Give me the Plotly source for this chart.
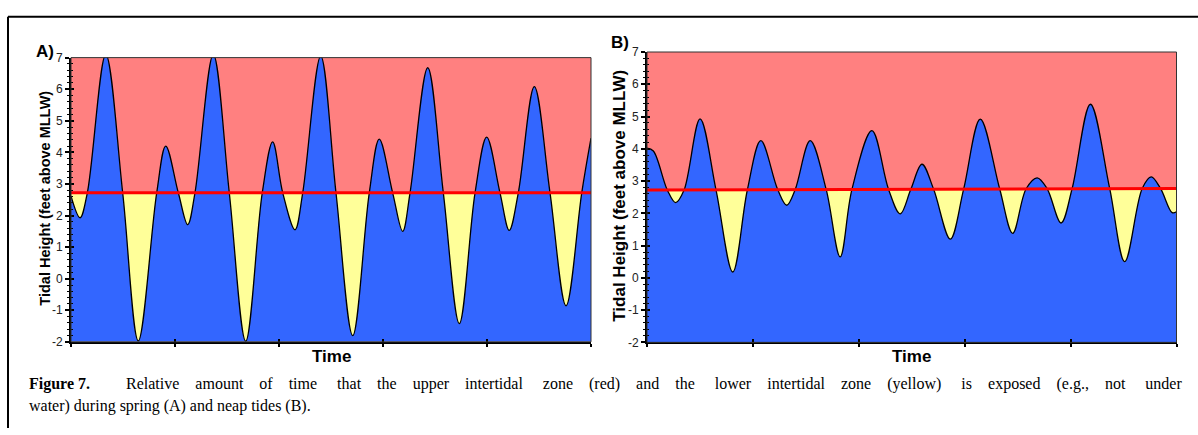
import plotly.graph_objects as go

# ---------------- data ----------------
# Panel A: spring tides  (time in arbitrary units, height in feet above MLLW)
spring_time = [0.000, 0.087, 0.157, 0.334, 0.497, 0.647, 0.824, 0.911, 1.032, 1.122,
               1.192, 1.368, 1.522, 1.680, 1.839, 1.939, 2.036, 2.154, 2.228, 2.401,
               2.548, 2.709, 2.868, 2.964, 3.093, 3.189, 3.260, 3.430, 3.580, 3.734,
               3.885, 3.997, 4.125, 4.214, 4.301, 4.455, 4.606, 4.760, 4.911, 5.000]
spring_height = [2.62, 1.93, 2.72, 7.10, 2.72, -1.97, 2.72, 4.20, 2.72, 1.71,
                 2.72, 7.10, 2.72, -1.98, 2.72, 4.33, 2.72, 1.55, 2.72, 7.05,
                 2.72, -1.80, 2.72, 4.42, 2.72, 1.50, 2.72, 6.68, 2.72, -1.42,
                 2.72, 4.48, 2.72, 1.53, 2.72, 6.08, 2.72, -0.86, 2.72, 4.45]

# Panel B: neap tides
neap_time = [0.000, 0.060, 0.192, 0.271, 0.350, 0.501, 0.652, 0.810, 0.948, 1.075, 1.235,
             1.320, 1.399, 1.541, 1.692, 1.824, 1.935, 2.124, 2.281, 2.391, 2.492,
             2.596, 2.706, 2.864, 2.990, 3.147, 3.330, 3.453, 3.580, 3.684, 3.779,
             3.910, 4.014, 4.187, 4.369, 4.511, 4.676, 4.761, 4.849, 4.959, 5.000]
neap_height = [4.02, 3.93, 2.72, 2.33, 2.72, 4.93, 2.72, 0.18, 2.73, 4.25, 2.73,
               2.25, 2.73, 4.25, 2.74, 0.65, 2.74, 4.56, 2.74, 1.98, 2.75,
               3.52, 2.75, 1.20, 2.75, 4.92, 2.76, 1.38, 2.76, 3.10, 2.76,
               1.70, 2.76, 5.38, 2.77, 0.50, 2.77, 3.13, 2.77, 2.02, 2.05]

# zone boundary (red line) at start and end of each record
level_time = [0, 5]
spring_level = [2.72, 2.72]
neap_level = [2.72, 2.77]

y_min, y_max = -2, 7
y_ticks = list(range(-2, 8))

panel_labels = ["A)", "B)"]
y_title = "Tidal Height (feet above MLLW)"
x_title = "Time"
caption_bold = "Figure 7."
caption_line1_words = ["", "Relative", "amount", "of", "time", "that", "the", "upper",
                       "intertidal", "zone", "(red)", "and", "the", "lower", "intertidal",
                       "zone", "(yellow)", "is", "exposed", "(e.g.,", "not", "under"]
caption_line2 = "water) during spring (A) and neap tides (B)."

# ---------------- styling ----------------
W, H = 1198, 435
PINK = "#FF8080"
BLUE = "#3366FF"
YELLOW = "#FFFF99"
RED = "#FF0000"
SANS = "Liberation Sans, Arial, sans-serif"
SERIF = "Liberation Serif, Times New Roman, serif"


def px(x):
    return x / W


def py(y):
    return 1 - y / H


# plot areas in pixels: (left, right, top, bottom)
areas = [(71, 591, 52.3, 346.0), (647, 1176.5, 46.5, 346.5)]

fig = go.Figure()
panels = [(spring_time, spring_height, spring_level), (neap_time, neap_height, neap_level)]

for i, (t, h, lvl) in enumerate(panels):
    xa = "x" if i == 0 else "x2"
    ya = "y" if i == 0 else "y2"
    base = [y_min, y_min]
    common = dict(xaxis=xa, yaxis=ya, showlegend=False, hoverinfo="skip")
    # yellow zone: from bottom up to red line
    fig.add_trace(go.Scatter(x=level_time, y=base, mode="lines", line=dict(width=0), **common))
    fig.add_trace(go.Scatter(x=level_time, y=lvl, mode="lines", line=dict(width=0),
                             fill="tonexty", fillcolor=YELLOW, **common))
    # blue water under the tide curve
    fig.add_trace(go.Scatter(x=level_time, y=base, mode="lines", line=dict(width=0), **common))
    fig.add_trace(go.Scatter(x=t, y=h, mode="lines",
                             line=dict(color="black", width=1.3, shape="spline", smoothing=1.0),
                             fill="tonexty", fillcolor=BLUE, **common))
    # red boundary line
    fig.add_trace(go.Scatter(x=level_time, y=lvl, mode="lines",
                             line=dict(color=RED, width=3), **common))
    # invisible trace to activate overlay axes (for crossing ticks)
    fig.add_trace(go.Scatter(x=level_time, y=base, mode="lines", line=dict(width=0),
                             xaxis="x3" if i == 0 else "x4", yaxis="y3" if i == 0 else "y4",
                             showlegend=False, hoverinfo="skip"))

layout_axes = {}
for i, (l, r, t_, b) in enumerate(areas):
    xd = [px(l), px(r)]
    yd = [py(b), py(t_)]
    xn = "xaxis" if i == 0 else "xaxis2"
    yn = "yaxis" if i == 0 else "yaxis2"
    xo = "xaxis3" if i == 0 else "xaxis4"
    yo = "yaxis3" if i == 0 else "yaxis4"
    xid = "x" if i == 0 else "x2"
    yid = "y" if i == 0 else "y2"
    layout_axes[xn] = dict(domain=xd, range=[0, 5], anchor=yid, showgrid=False, zeroline=False,
                           showline=True, linecolor="black", linewidth=2,
                           ticks="outside", ticklen=3, tickwidth=1.5, tickcolor="black",
                           dtick=1, tick0=0, showticklabels=False, fixedrange=True)
    layout_axes[yn] = dict(domain=yd, range=[y_min, y_max], anchor=xid, showgrid=False,
                           zeroline=False, showline=True, linecolor="black", linewidth=2,
                           ticks="outside", ticklen=4, tickwidth=1.5, tickcolor="black",
                           tickvals=y_ticks, ticktext=[str(v) for v in y_ticks],
                           tickfont=dict(family=SANS, size=12, color="#222222"),
                           minor=dict(ticks="outside", ticklen=2, dtick=0.2, tickwidth=1,
                                      tickcolor="black"),
                           fixedrange=True)
    oxid = "x3" if i == 0 else "x4"
    oyid = "y3" if i == 0 else "y4"
    layout_axes[xo] = dict(domain=xd, range=[0, 5], anchor=oyid, overlaying=xid,
                           showgrid=False, zeroline=False, showline=False,
                           ticks="inside", ticklen=3, tickwidth=1.5, tickcolor="black",
                           dtick=1, tick0=0, showticklabels=False, fixedrange=True)
    layout_axes[yo] = dict(domain=yd, range=[y_min, y_max], anchor=oxid, overlaying=yid,
                           showgrid=False, zeroline=False, showline=False,
                           ticks="inside", ticklen=3, tickwidth=1.5, tickcolor="black",
                           tickvals=y_ticks, showticklabels=False,
                           minor=dict(ticks="inside", ticklen=2, dtick=0.2, tickwidth=1,
                                      tickcolor="black"),
                           fixedrange=True)

shapes = []
for i, (l, r, t_, b) in enumerate(areas):
    xr = ("x" if i == 0 else "x2") + " domain"
    yr = ("y" if i == 0 else "y2") + " domain"
    shapes.append(dict(type="rect", xref=xr, yref=yr, x0=0, x1=1, y0=0, y1=1,
                       line=dict(color="#333333", width=1), fillcolor="rgba(0,0,0,0)"))
# outer figure frame (top and left)
shapes.append(dict(type="line", xref="paper", yref="paper", x0=px(8), x1=1.0,
                   y0=py(10), y1=py(10), line=dict(color="black", width=2)))
shapes.append(dict(type="line", xref="paper", yref="paper", x0=px(8), x1=px(8),
                   y0=py(10), y1=0, line=dict(color="black", width=2)))

annotations = []
title_pos = [(45, 198, 14.5), (620, 195, 17)]
label_pos = [(45, 46), (620, 37)]
for i, (l, r, t_, b) in enumerate(areas):
    annotations.append(dict(text="<b>%s</b>" % y_title, x=px(title_pos[i][0]),
                            y=py(title_pos[i][1]),
                            xref="paper", yref="paper", textangle=-90, showarrow=False,
                            font=dict(family=SANS, size=title_pos[i][2], color="black"),
                            xanchor="center", yanchor="middle"))
    annotations.append(dict(text="<b>%s</b>" % x_title, x=px((l + r) / 2), y=py(361),
                            xref="paper", yref="paper", showarrow=False,
                            font=dict(family=SANS, size=17, color="black"),
                            xanchor="center", yanchor="middle"))
    annotations.append(dict(text="<b>%s</b>" % panel_labels[i], x=px(label_pos[i][0]),
                            y=py(label_pos[i][1]), xref="paper", yref="paper", showarrow=False,
                            font=dict(family=SANS, size=17, color="black"),
                            xanchor="center", yanchor="middle"))

# justified first caption line: widen each word gap with non-breaking spaces
NB = "\u00a0"
parts = ["<b>%s</b>" % caption_bold]
for k, w in enumerate(caption_line1_words):
    extra = 4 if k % 4 == 1 else 3
    parts.append(" " + NB * extra + w)
caption_line1 = "".join(parts)

annotations.append(dict(text=caption_line1, x=px(27), y=py(390), xref="paper", yref="paper",
                        showarrow=False, xanchor="left", yanchor="middle",
                        font=dict(family=SERIF, size=16, color="black")))
annotations.append(dict(text=caption_line2, x=px(27), y=py(412), xref="paper", yref="paper",
                        showarrow=False, xanchor="left", yanchor="middle",
                        font=dict(family=SERIF, size=16, color="black")))

fig.update_layout(width=W, height=H, margin=dict(l=0, r=0, t=0, b=0),
                  paper_bgcolor="white", plot_bgcolor=PINK, showlegend=False,
                  shapes=shapes, annotations=annotations, **layout_axes)

page_fix = (
    "var de=document.documentElement, bd=document.body;"
    "[de, bd].forEach(function(e){e.style.margin='0';e.style.padding='0';"
    "e.style.overflow='hidden';e.style.width='%dpx';e.style.height='%dpx';});"
    "var gd=document.getElementById('{plot_id}');"
    "if(gd&&gd.parentElement){gd.parentElement.style.margin='0';"
    "gd.parentElement.style.padding='0';gd.parentElement.style.height='%dpx';"
    "gd.parentElement.style.overflow='hidden';}"
    "window.scrollTo(0,0);" % (W, H, H)
)
fig.write_html("out.html", config={"displayModeBar": False}, post_script=page_fix)
